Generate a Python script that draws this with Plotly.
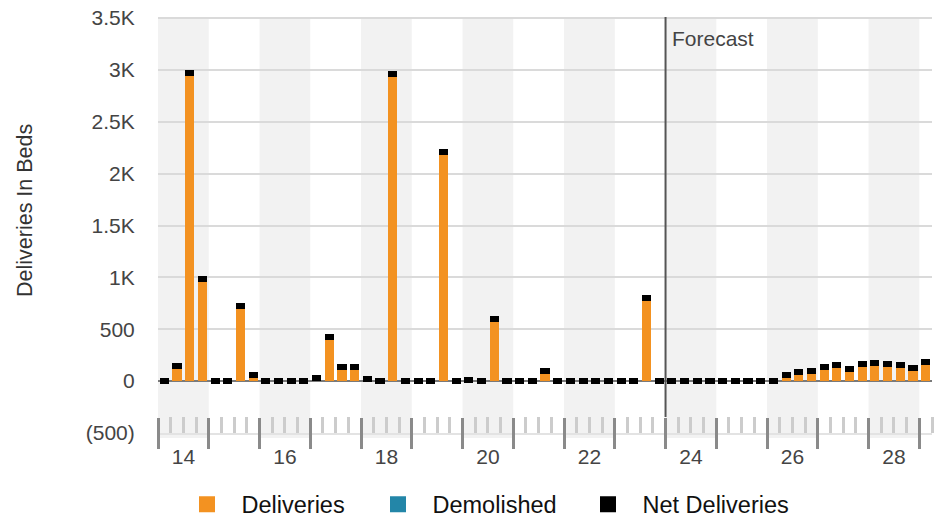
import plotly.graph_objects as go

# ---------------- data ----------------
quarters = [f"{y}Q{q}" for y in range(2014, 2029) for q in range(1, 5)] + ["2029Q1"]

deliveries = [
    0, 150, 2970, 985,      # 2014
    0, 0, 720, 60,          # 2015
    0, 0, 0, 0,             # 2016
    30, 430, 135, 135,      # 2017
    20, 0, 2960, 0,         # 2018
    0, 0, 2210, 0,          # 2019
    15, 0, 600, 0,          # 2020
    0, 0, 95, 0,            # 2021
    0, 0, 0, 0,             # 2022
    0, 0, 800, 0,           # 2023
    0, 0, 0, 0,             # 2024
    0, 0, 0, 0,             # 2025
    0, 60, 85, 95,          # 2026
    135, 155, 115, 165,     # 2027
    175, 165, 155, 125,     # 2028
    185,                    # 2029
]
demolished = [0] * len(quarters)
net_deliveries = [d - m for d, m in zip(deliveries, demolished)]

y_ticks = [-500, 0, 500, 1000, 1500, 2000, 2500, 3000, 3500]
label_years = [2014, 2016, 2018, 2020, 2022, 2024, 2026, 2028]
band_years = [2014, 2016, 2018, 2020, 2022, 2024, 2026, 2028]
forecast_start = 2024.0
x_start, x_end = 2014.0, 2029.25

# ---------------- helpers ----------------
def qpos(label):
    y, q = label.split("Q")
    return int(y) + (int(q) - 0.5) / 4.0

def fmt(v):
    if v < 0:
        return f"({fmt(-v)})"
    if v >= 1000:
        s = f"{v/1000:.1f}".rstrip("0").rstrip(".")
        return s + "K"
    return str(v)

xs = [qpos(q) for q in quarters]

ORANGE = "#F39221"
BLUE = "#2386A8"
BLACK = "#000000"
FONT = "Liberation Sans, Arial, sans-serif"
BAR_W = 0.18
NET_H = 58  # thickness of net-delivery marker in data units

PLOT_H = 416.0
PLOT_W = 774.0
L = 158  # plot left edge in page pixels (for relative positions)

fig = go.Figure()

fig.add_trace(go.Bar(x=xs, y=deliveries, width=BAR_W, marker=dict(color=ORANGE, line=dict(width=0)),
                     name="Deliveries", legendgroup="d", showlegend=False))
fig.add_trace(go.Bar(x=xs, y=[-v for v in demolished], width=BAR_W, marker=dict(color=BLUE, line=dict(width=0)),
                     name="Demolished", legendgroup="m", showlegend=False))
fig.add_trace(go.Bar(x=xs, y=[NET_H] * len(xs), base=[v - NET_H / 2 for v in net_deliveries], width=BAR_W,
                     marker=dict(color=BLACK, line=dict(width=0)),
                     name="Net Deliveries", legendgroup="n", showlegend=False))

# legend entries
for nm, col, grp, lg in [("Deliveries", ORANGE, "d", "legend"),
                         ("Demolished", BLUE, "m", "legend2"),
                         ("Net Deliveries", BLACK, "n", "legend3")]:
    fig.add_trace(go.Scatter(x=[None], y=[None], mode="markers", name=nm, legendgroup=grp, legend=lg,
                             marker=dict(symbol="square", size=16, color=col)))

# helper traces for overlay axes
fig.add_trace(go.Scatter(x=[None], y=[None], xaxis="x2", showlegend=False, hoverinfo="skip"))
fig.add_trace(go.Scatter(x=[None], y=[None], xaxis="x3", showlegend=False, hoverinfo="skip"))

shapes = []
for y in band_years:
    shapes.append(dict(type="rect", xref="x", yref="paper", x0=y, x1=y + 1, y0=-5 / PLOT_H, y1=1,
                       fillcolor="#f2f2f2", line=dict(width=0), layer="below"))
shapes.append(dict(type="line", xref="x", yref="paper", x0=forecast_start, x1=forecast_start,
                   y0=16 / PLOT_H, y1=1, line=dict(color="#555555", width=2), layer="above"))

legend_common = dict(orientation="h", xanchor="left", yanchor="middle", y=-(504.5 - 433) / PLOT_H,
                     font=dict(family=FONT, size=23.5, color="#111111"), itemwidth=59,
                     bgcolor="rgba(0,0,0,0)", borderwidth=0)

fig.update_layout(
    width=935, height=511,
    margin=dict(l=150, r=11, t=9, b=86, autoexpand=False),
    paper_bgcolor="white", plot_bgcolor="white",
    barmode="overlay", bargap=0,
    font=dict(family=FONT, color="#444444"),
    shapes=shapes,
    legend=dict(**legend_common, x=(172.5 - L) / PLOT_W),
    legend2=dict(**legend_common, x=(363.5 - L) / PLOT_W),
    legend3=dict(**legend_common, x=(573.5 - L) / PLOT_W),
    xaxis=dict(range=[x_start, x_end], showgrid=False, zeroline=False,
               showline=True, linecolor="#e3e3e3", linewidth=2,
               tickmode="linear", tick0=2014, dtick=1, ticks="", showticklabels=False,
               minor=dict(ticks="inside", ticklen=16, tickwidth=3, tickcolor="#cccccc",
                          tickmode="linear", tick0=2014, dtick=0.25, showgrid=False)),
    xaxis2=dict(overlaying="x", anchor="free", position=16 / PLOT_H, range=[x_start, x_end],
                tickmode="linear", tick0=2014, dtick=1, ticks="outside", ticklen=31, tickwidth=3,
                tickcolor="#8a8a8a", showticklabels=False, showgrid=False, zeroline=False, showline=False),
    xaxis3=dict(overlaying="x", anchor="y", side="bottom", range=[x_start, x_end],
                tickmode="array", tickvals=[y + 0.5 for y in label_years],
                ticktext=[str(y)[2:] for y in label_years],
                ticks="outside", ticklen=5, tickcolor="rgba(0,0,0,0)",
                tickfont=dict(family=FONT, size=21, color="#444444"),
                showgrid=False, zeroline=False, showline=False),
    yaxis=dict(range=[-500, 3510], tickmode="array", tickvals=y_ticks, ticktext=[fmt(v) for v in y_ticks],
               showgrid=True, gridcolor="#dadada", gridwidth=1.5,
               zeroline=True, zerolinecolor="#7a7a7a", zerolinewidth=2.2,
               ticks="outside", ticklen=18, tickcolor="rgba(0,0,0,0)", ticklabeloverflow="allow",
               tickfont=dict(family=FONT, size=21, color="#444444"), showline=False),
    annotations=[
        dict(text="Deliveries In Beds", xref="paper", yref="paper", x=(25 - L) / PLOT_W, y=(433 - 211) / PLOT_H,
             xanchor="center", yanchor="middle", textangle=-90, showarrow=False,
             font=dict(family=FONT, size=21.5, color="#333333")),
        dict(text="Forecast", xref="x", yref="paper", x=forecast_start, y=(433 - 38) / PLOT_H,
             xanchor="left", yanchor="middle", xshift=4, showarrow=False,
             font=dict(family=FONT, size=21, color="#444444")),
    ],
)

fig.write_html("out.html")
